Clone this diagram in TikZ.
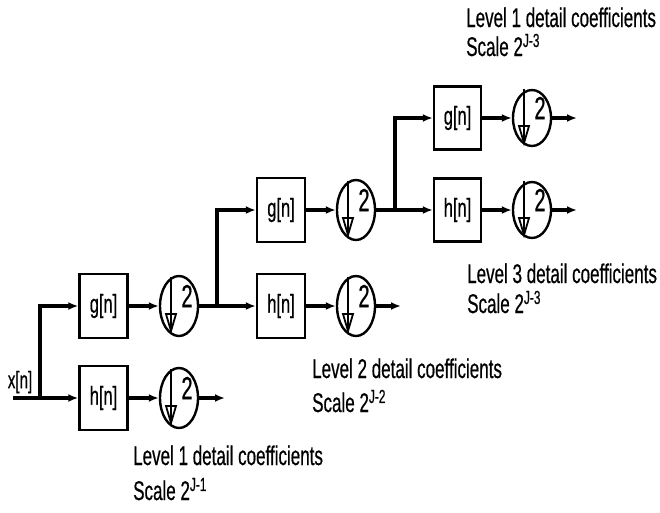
\documentclass[tikz,border=0pt]{standalone}
\usepackage{fontspec}
\setmainfont[FakeStretch=0.63,FakeBold=0.5]{Liberation Sans}
\usetikzlibrary{arrows.meta,shapes.geometric,calc}
\newcommand{\dsmark}[1]{%
  \draw[line width=2pt] ($(#1.center)+(-8,-29)$) -- ($(#1.center)+(-8,25)$);
  \draw[line width=1.8pt,line join=miter] ($(#1.center)+(-13,8)$) -- ($(#1.center)+(-3,8)$) -- ($(#1.center)+(-8,25)$) -- cycle;
  \node[font=\fontsize{32}{32}\selectfont,inner sep=0pt] (#1two) at ($(#1.center)+(8,-10)$) {2};
}
\begin{document}
\begin{tikzpicture}[x=1pt,y=-1pt,
  conn/.style={line width=3.2pt,-{Latex[length=10pt,width=8pt]}},
  wire/.style={line width=3.2pt},
  filt/.style={draw,line width=2.4pt,minimum width=48pt,minimum height=64pt,inner sep=0pt,font=\fontsize{26}{26}\selectfont},
  ds/.style={draw,ellipse,line width=2.4pt,minimum width=38pt,minimum height=60pt,inner sep=0pt},
  lbl/.style={anchor=base west,inner sep=0pt,font=\fontsize{27}{27}\selectfont}
]
\useasboundingbox (0,0) rectangle (660,512);
\fill[white] (0,0) rectangle (660,512);

% input
\node[inner sep=0pt,font=\fontsize{24}{24}\selectfont] (xn) at (20,382) {x[n]};
\coordinate (xin) at (13,398);
\coordinate (j1) at (40,398);

% level 1
\node[filt] (g1) at (103.5,306) {g[n]};
\node[filt] (h1) at (103.5,398) {h[n]};
\node[ds] (c1g) at (179,306) {};
\node[ds] (c1h) at (179,398) {};
\dsmark{c1g}
\dsmark{c1h}
\coordinate (o1) at (225,398);
\coordinate (j2) at (217,306);

% level 2
\node[filt] (g2) at (281,210) {g[n]};
\node[filt] (h2) at (281,306) {h[n]};
\node[ds] (c2g) at (356,210) {};
\node[ds] (c2h) at (356,306) {};
\dsmark{c2g}
\dsmark{c2h}
\coordinate (o2) at (401,306);
\coordinate (j3) at (395,210);

% level 3
\node[filt,minimum width=47pt,minimum height=63pt] (g3) at (457.5,118) {g[n]};
\node[filt,minimum width=47pt,minimum height=63pt] (h3) at (457.5,210) {h[n]};
\node[ds,minimum height=56pt] (c3g) at (532,118) {};
\node[ds,minimum height=56pt] (c3h) at (532,210) {};
\dsmark{c3g}
\dsmark{c3h}
\coordinate (o3g) at (577,118);
\coordinate (o3h) at (577,210);

% connectors
\draw[wire] (xin) -- (j1);
\draw[conn] (j1) -- (h1);
\draw[conn] (j1) |- (g1);
\draw[conn] (g1) -- (c1g);
\draw[conn] (h1) -- (c1h);
\draw[conn] (c1h) -- (o1);
\draw[wire] (c1g) -- (j2);
\draw[conn] (j2) -- (h2);
\draw[conn] (j2) |- (g2);
\draw[conn] (g2) -- (c2g);
\draw[conn] (h2) -- (c2h);
\draw[conn] (c2h) -- (o2);
\draw[wire] (c2g) -- (j3);
\draw[conn] (j3) -- (h3);
\draw[conn] (j3) |- (g3);
\draw[conn] (g3) -- (c3g);
\draw[conn] (h3) -- (c3h);
\draw[conn] (c3g) -- (o3g);
\draw[conn] (c3h) -- (o3h);

% labels
\node[lbl] (t1a) at (466,27) {Level 1 detail coefficients};
\node[lbl] (t1b) at (466,56) {Scale 2\textsuperscript{J-3}};
\node[lbl] (t3a) at (467,283) {Level 3 detail coefficients};
\node[lbl] (t3b) at (467,313) {Scale 2\textsuperscript{J-3}};
\node[lbl] (t2a) at (312,378) {Level 2 detail coefficients};
\node[lbl] (t2b) at (312,412) {Scale 2\textsuperscript{J-2}};
\node[lbl] (l1a) at (133,465) {Level 1 detail coefficients};
\node[lbl] (l1b) at (133,500) {Scale 2\textsuperscript{J-1}};
\end{tikzpicture}
\end{document}
